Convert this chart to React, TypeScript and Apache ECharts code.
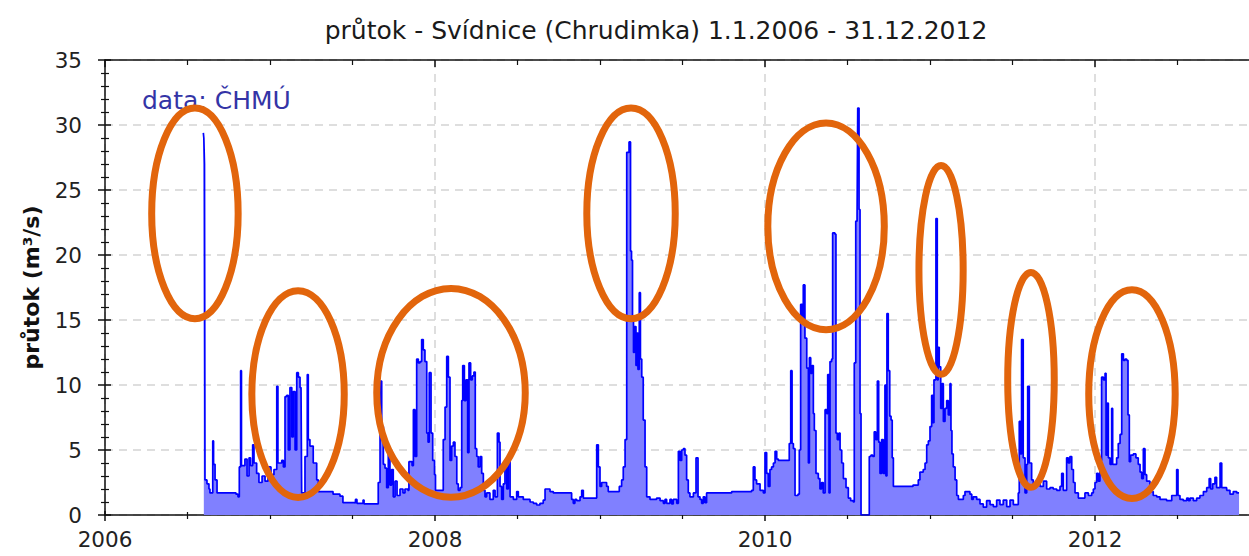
import React, { useEffect, useRef } from "react";
import * as echarts from "echarts";

// ---------- texts ----------
const TITLE = "průtok - Svídnice (Chrudimka) 1.1.2006 - 31.12.2012";
const Y_NAME = "průtok (m³/s)";
const SOURCE_NOTE = "data: ČHMÚ";

// ---------- axes ----------
const X_MIN = 2006;
const X_MAX = 2014; // axis continues past the visible edge
const X_LABEL_STEP = 2;
const Y_MIN = 0;
const Y_MAX = 35;
const Y_STEP = 5;

// ---------- daily flow (decimal year, m³/s) ----------
const flow2006: [number, number][] = [
  [2006.596, 29.4], [2006.599, 29.0], [2006.603, 27.0], [2006.606, 2.7], [2006.618, 2.4],
  [2006.63, 2.0], [2006.636, 1.7], [2006.653, 5.7], [2006.658, 3.9], [2006.667, 2.7],
  [2006.679, 1.7], [2006.794, 1.6], [2006.806, 1.4], [2006.814, 3.7], [2006.822, 11.1],
  [2006.827, 3.8], [2006.848, 4.3], [2006.861, 3.0], [2006.873, 4.4], [2006.882, 3.8],
  [2006.895, 5.4], [2006.903, 4.0], [2006.919, 3.2], [2006.933, 2.5], [2006.952, 3.0],
  [2006.97, 2.6], [2006.988, 3.7],
];
const flow2007: [number, number][] = [
  [2007.006, 3.1], [2007.024, 3.5], [2007.041, 9.9], [2007.048, 4.0], [2007.071, 4.2],
  [2007.081, 3.7], [2007.091, 9.1], [2007.101, 9.2], [2007.111, 5.0], [2007.121, 9.8],
  [2007.132, 6.0], [2007.141, 9.5], [2007.152, 5.0], [2007.162, 10.95], [2007.172, 10.6],
  [2007.182, 9.8], [2007.188, 9.8], [2007.192, 1.7], [2007.212, 4.5], [2007.226, 10.8],
  [2007.232, 5.8], [2007.242, 5.3], [2007.262, 4.0], [2007.283, 2.7], [2007.293, 1.8],
  [2007.382, 1.6], [2007.424, 1.45], [2007.442, 0.95], [2007.515, 0.9], [2007.518, 1.2],
  [2007.527, 0.9], [2007.564, 1.15], [2007.57, 0.85], [2007.642, 0.85], [2007.656, 2.5],
  [2007.667, 10.3], [2007.677, 6.8], [2007.687, 3.9], [2007.697, 3.6], [2007.707, 2.1],
  [2007.717, 5.0], [2007.727, 2.3], [2007.737, 3.5], [2007.747, 1.4], [2007.758, 2.6],
  [2007.77, 1.5], [2007.788, 2.0], [2007.806, 1.7], [2007.818, 2.0], [2007.836, 1.9],
  [2007.842, 4.1], [2007.861, 3.8], [2007.869, 8.1], [2007.879, 4.5], [2007.889, 12.0],
  [2007.899, 11.7], [2007.909, 11.8], [2007.919, 13.5], [2007.929, 12.7], [2007.939, 11.8],
  [2007.95, 6.3], [2007.958, 5.6], [2007.965, 10.95], [2007.976, 6.3], [2007.986, 4.2],
  [2007.997, 3.1],
];
const flow2008: [number, number][] = [
  [2008.003, 1.9], [2008.05, 5.8], [2008.061, 8.3], [2008.071, 12.2], [2008.081, 10.6],
  [2008.091, 4.2], [2008.101, 5.3], [2008.111, 5.6], [2008.121, 4.5], [2008.132, 2.4],
  [2008.141, 1.9], [2008.152, 2.1], [2008.162, 8.8], [2008.168, 11.5], [2008.178, 8.8],
  [2008.188, 10.4], [2008.198, 4.8], [2008.206, 11.7], [2008.216, 10.4], [2008.226, 10.7],
  [2008.236, 11.0], [2008.244, 5.1], [2008.253, 4.5], [2008.262, 3.7], [2008.273, 4.5],
  [2008.283, 3.2], [2008.293, 1.9], [2008.303, 1.4], [2008.313, 1.7], [2008.333, 1.2],
  [2008.353, 1.9], [2008.364, 1.4], [2008.378, 6.3], [2008.388, 5.6], [2008.394, 2.2],
  [2008.404, 1.2], [2008.414, 2.4], [2008.424, 3.7], [2008.435, 2.0], [2008.444, 4.5],
  [2008.455, 1.4], [2008.475, 1.2], [2008.495, 1.8], [2008.505, 1.4], [2008.535, 1.2],
  [2008.576, 1.0], [2008.596, 0.9], [2008.616, 0.77], [2008.636, 0.9], [2008.656, 1.15],
  [2008.667, 2.0], [2008.697, 1.8], [2008.717, 1.7], [2008.828, 1.2], [2008.838, 0.9],
  [2008.848, 1.2], [2008.859, 1.1], [2008.879, 1.4], [2008.889, 1.9], [2008.899, 1.3],
  [2008.98, 5.4], [2008.99, 3.7],
];
const flow2009: [number, number][] = [
  [2009.0, 2.2], [2009.01, 2.5], [2009.04, 2.2], [2009.05, 1.8], [2009.117, 2.2],
  [2009.131, 2.7], [2009.141, 3.7], [2009.152, 5.8], [2009.162, 27.9], [2009.176, 28.7],
  [2009.185, 20.3], [2009.191, 19.6], [2009.197, 15.0], [2009.203, 12.5], [2009.209, 14.5],
  [2009.218, 11.5], [2009.224, 14.0], [2009.23, 11.2], [2009.238, 17.1], [2009.245, 12.0],
  [2009.253, 10.6], [2009.262, 7.3], [2009.273, 3.7], [2009.283, 1.4], [2009.303, 1.2],
  [2009.343, 1.3], [2009.364, 1.1], [2009.384, 0.9], [2009.394, 1.2], [2009.404, 0.9],
  [2009.424, 1.2], [2009.434, 0.85], [2009.444, 1.2], [2009.465, 0.9], [2009.475, 4.9],
  [2009.485, 4.2], [2009.495, 5.0], [2009.505, 5.1], [2009.515, 4.6], [2009.525, 2.7],
  [2009.535, 1.7], [2009.545, 1.4], [2009.566, 1.7], [2009.582, 4.4], [2009.594, 1.4],
  [2009.606, 1.2], [2009.616, 0.9], [2009.626, 1.4], [2009.636, 0.95], [2009.646, 1.7],
  [2009.798, 1.8], [2009.919, 1.9], [2009.929, 3.7], [2009.939, 2.7], [2009.949, 2.4],
  [2009.97, 1.9], [2009.99, 1.7],
];
const flow2010: [number, number][] = [
  [2010.0, 4.8], [2010.01, 3.2], [2010.02, 2.2], [2010.03, 3.5], [2010.04, 3.7],
  [2010.051, 4.0], [2010.061, 4.9], [2010.071, 4.3], [2010.081, 4.2], [2010.147, 5.5],
  [2010.156, 11.1], [2010.164, 5.5], [2010.172, 5.1], [2010.182, 1.5], [2010.2, 1.6],
  [2010.208, 5.0], [2010.216, 16.2], [2010.226, 15.0], [2010.232, 17.7], [2010.242, 13.6],
  [2010.253, 11.3], [2010.263, 4.0], [2010.269, 12.1], [2010.277, 10.9], [2010.285, 11.5],
  [2010.293, 7.8], [2010.299, 6.5], [2010.309, 3.2], [2010.323, 2.8], [2010.333, 2.0],
  [2010.343, 2.5], [2010.353, 1.7], [2010.364, 8.1], [2010.374, 7.8], [2010.38, 10.8],
  [2010.388, 1.7], [2010.394, 11.8], [2010.404, 12.0], [2010.41, 21.7], [2010.424, 21.6],
  [2010.43, 6.3], [2010.438, 5.8], [2010.448, 6.3], [2010.455, 5.0], [2010.465, 4.0],
  [2010.475, 2.8], [2010.491, 2.1], [2010.505, 1.3], [2010.519, 1.1], [2010.535, 1.0],
  [2010.541, 11.7], [2010.55, 22.6], [2010.558, 22.9], [2010.562, 31.3], [2010.57, 23.5],
  [2010.576, 7.8], [2010.582, 0], [2010.624, 0], [2010.632, 4.5], [2010.642, 4.6],
  [2010.653, 4.5], [2010.662, 6.4], [2010.671, 5.8], [2010.681, 10.3], [2010.689, 5.6],
  [2010.697, 3.2], [2010.707, 5.8], [2010.717, 3.2], [2010.727, 10.0], [2010.733, 3.0],
  [2010.739, 15.5], [2010.747, 11.1], [2010.756, 7.6], [2010.764, 7.3], [2010.771, 4.4],
  [2010.778, 2.2], [2010.897, 2.3], [2010.929, 2.7], [2010.939, 3.3], [2010.959, 3.5],
  [2010.97, 4.0], [2010.98, 5.4], [2010.99, 5.7],
];
const flow2011: [number, number][] = [
  [2011.0, 6.8], [2011.01, 9.2], [2011.018, 7.1], [2011.024, 10.4], [2011.036, 22.8],
  [2011.044, 10.4], [2011.05, 12.9], [2011.056, 11.4], [2011.065, 8.2], [2011.073, 10.1],
  [2011.081, 7.2], [2011.091, 8.2], [2011.101, 8.8], [2011.111, 7.7], [2011.121, 10.1],
  [2011.127, 6.5], [2011.133, 4.7], [2011.141, 3.7], [2011.152, 2.7], [2011.162, 1.5],
  [2011.172, 1.2], [2011.202, 1.5], [2011.212, 1.8], [2011.242, 1.6], [2011.253, 1.2],
  [2011.262, 1.4], [2011.283, 1.2], [2011.303, 0.85], [2011.323, 0.6], [2011.343, 1.1],
  [2011.364, 0.8], [2011.384, 0.64], [2011.404, 1.15], [2011.424, 0.8], [2011.444, 1.15],
  [2011.465, 0.64], [2011.485, 1.15], [2011.505, 0.8], [2011.535, 1.7], [2011.541, 7.2],
  [2011.548, 4.7], [2011.555, 13.5], [2011.565, 4.4], [2011.576, 1.7], [2011.586, 3.9],
  [2011.592, 9.9], [2011.602, 4.0], [2011.616, 2.7], [2011.626, 2.4], [2011.646, 2.7],
  [2011.667, 2.2], [2011.687, 2.6], [2011.707, 2.0], [2011.727, 2.1], [2011.747, 2.0],
  [2011.768, 1.9], [2011.788, 2.2], [2011.798, 3.2], [2011.808, 1.9], [2011.828, 4.4],
  [2011.838, 4.0], [2011.848, 4.5], [2011.859, 3.5], [2011.869, 2.5], [2011.879, 1.7],
  [2011.899, 1.3], [2011.939, 1.7], [2011.96, 1.5], [2011.98, 1.7], [2011.99, 2.0],
];
const flow2012: [number, number][] = [
  [2012.0, 2.5], [2012.01, 3.2], [2012.02, 2.6], [2012.03, 4.2], [2012.04, 10.6],
  [2012.051, 10.4], [2012.061, 10.9], [2012.067, 4.6], [2012.075, 8.6], [2012.081, 4.4],
  [2012.091, 3.9], [2012.101, 8.2], [2012.107, 3.9], [2012.131, 4.4], [2012.141, 5.5],
  [2012.152, 6.2], [2012.162, 12.4], [2012.172, 11.9], [2012.182, 12.0], [2012.192, 11.9],
  [2012.2, 7.7], [2012.208, 4.1], [2012.216, 4.6], [2012.232, 4.7], [2012.248, 4.4],
  [2012.262, 3.9], [2012.273, 3.3], [2012.283, 2.8], [2012.293, 5.1], [2012.303, 3.1],
  [2012.313, 2.6], [2012.333, 1.8], [2012.353, 1.5], [2012.374, 1.4], [2012.394, 1.2],
  [2012.434, 1.1], [2012.465, 1.5], [2012.495, 3.5], [2012.503, 1.5], [2012.515, 1.2],
  [2012.535, 1.1], [2012.556, 1.3], [2012.566, 1.1], [2012.576, 1.3], [2012.596, 1.1],
  [2012.616, 1.3], [2012.636, 1.5], [2012.657, 1.8], [2012.677, 2.1], [2012.692, 2.8],
  [2012.701, 2.0], [2012.713, 2.4], [2012.727, 2.9], [2012.737, 2.1], [2012.758, 4.0],
  [2012.768, 2.1], [2012.798, 1.9], [2012.818, 1.6], [2012.838, 1.8], [2012.859, 1.7],
  [2012.873, 1.7],
];

// ---------- highlighted floods: centre year, centre flow, half-width (years), half-height (m³/s) ----------
const highlightYears = [2006.545, 2007.17, 2008.097, 2009.188, 2010.37, 2011.067, 2011.612, 2012.224];
const highlightFlows = [23.2, 9.3, 9.4, 23.2, 22.2, 18.85, 10.4, 9.3];
const highlightHalfWidths = [0.262, 0.28, 0.45, 0.268, 0.353, 0.134, 0.141, 0.262];
const highlightHalfHeights = [8.1, 7.95, 8.03, 8.1, 7.95, 8.03, 8.26, 8.03];

const FONT = "'DejaVu Sans', Verdana, sans-serif";

export default function App() {
  const ref = useRef<HTMLDivElement>(null);

  useEffect(() => {
    if (!ref.current) return;
    const chart = echarts.init(ref.current, undefined, { renderer: "svg" });
    const flow = [...flow2006, ...flow2007, ...flow2008, ...flow2009, ...flow2010, ...flow2011, ...flow2012];

    const gridColor = "#d4d4d4";
    const axisColor = "#111";

    const xBase = {
      type: "value" as const,
      min: X_MIN,
      max: X_MAX,
      interval: X_LABEL_STEP,
      gridIndex: 0,
    };
    const yBase = {
      type: "value" as const,
      min: Y_MIN,
      max: Y_MAX,
      interval: Y_STEP,
      gridIndex: 0,
    };

    const noteGraphic = {
      type: "text",
      left: 142,
      top: 88,
      style: { text: SOURCE_NOTE, font: `25px ${FONT}`, fill: "#3434a6" },
      z: 50,
    };

    chart.setOption({
      animation: false,
      backgroundColor: "#ffffff",
      title: {
        text: TITLE,
        left: 651,
        top: 13,
        textAlign: "center",
        textStyle: { fontFamily: FONT, fontSize: 25, fontWeight: "normal", color: "#1a1a1a" },
      },
      grid: {
        left: 105,
        top: 60,
        bottom: 41,
        width: 1320,
        containLabel: false,
        outerBoundsMode: "none",
      },
      xAxis: [
        {
          ...xBase,
          position: "bottom",
          axisLine: { show: true, onZero: false, lineStyle: { color: axisColor, width: 1.5 } },
          axisTick: { show: true, inside: false, length: 6, lineStyle: { color: axisColor, width: 1.5 } },
          minorTick: { show: true, splitNumber: 4, length: 4, lineStyle: { color: axisColor, width: 1.2 } },
          axisLabel: {
            show: true,
            margin: 13,
            fontFamily: FONT,
            fontSize: 21.5,
            color: "#222",
            formatter: (v: number) => (v <= 2012 ? String(v) : ""),
          },
          splitLine: { show: true, lineStyle: { color: gridColor, type: [8, 6], width: 1.5 } },
        },
        {
          ...xBase,
          position: "bottom",
          axisLine: { show: false },
          axisTick: { show: true, inside: true, length: 4, lineStyle: { color: axisColor, width: 1.5 } },
          minorTick: { show: true, splitNumber: 4, length: 3, lineStyle: { color: axisColor, width: 1.2 } },
          axisLabel: { show: false },
          splitLine: { show: false },
        },
        {
          ...xBase,
          position: "top",
          axisLine: { show: true, onZero: false, lineStyle: { color: axisColor, width: 1.5 } },
          axisTick: { show: true, inside: true, length: 7, lineStyle: { color: axisColor, width: 1.5 } },
          minorTick: { show: true, splitNumber: 4, length: 5, lineStyle: { color: axisColor, width: 1.2 } },
          axisLabel: { show: false },
          splitLine: { show: false },
        },
      ],
      yAxis: [
        {
          ...yBase,
          position: "left",
          name: Y_NAME,
          nameLocation: "middle",
          nameRotate: 90,
          nameGap: 63,
          nameTextStyle: { fontFamily: FONT, fontSize: 22, fontWeight: "bold", color: "#111" },
          axisLine: { show: true, onZero: false, lineStyle: { color: axisColor, width: 1.5 } },
          axisTick: { show: true, inside: false, length: 7, lineStyle: { color: axisColor, width: 1.5 } },
          minorTick: { show: true, splitNumber: 5, length: 4, lineStyle: { color: axisColor, width: 1.2 } },
          axisLabel: { show: true, margin: 23, fontFamily: FONT, fontSize: 21.5, color: "#222" },
          splitLine: { show: true, lineStyle: { color: gridColor, type: [8, 6], width: 1.5 } },
        },
        {
          ...yBase,
          position: "left",
          axisLine: { show: false },
          axisTick: { show: true, inside: true, length: 6, lineStyle: { color: axisColor, width: 1.5 } },
          minorTick: { show: true, splitNumber: 5, length: 4, lineStyle: { color: axisColor, width: 1.2 } },
          axisLabel: { show: false },
          splitLine: { show: false },
        },
      ],
      series: [
        {
          type: "line",
          name: "průtok",
          xAxisIndex: 0,
          yAxisIndex: 0,
          data: flow,
          step: "end",
          showSymbol: false,
          symbol: "none",
          lineStyle: { color: "#0000ff", width: 1.7 },
          areaStyle: { color: "#8080ff", opacity: 1 },
          z: 2,
        },
      ],
      graphic: [noteGraphic],
    });

    // Annotation ellipses, placed from data coordinates through the axes
    const ellipses = highlightYears.map((yr, i) => {
      const c = chart.convertToPixel({ xAxisIndex: 0, yAxisIndex: 0 }, [yr, highlightFlows[i]]) as number[];
      const e = chart.convertToPixel(
        { xAxisIndex: 0, yAxisIndex: 0 },
        [yr + highlightHalfWidths[i], highlightFlows[i] + highlightHalfHeights[i]]
      ) as number[];
      return {
        type: "ellipse",
        shape: { cx: c[0], cy: c[1], rx: Math.abs(e[0] - c[0]), ry: Math.abs(c[1] - e[1]) },
        style: { fill: "none", stroke: "#e2650c", lineWidth: 7 },
        z: 100,
        silent: true,
      };
    });

    chart.setOption({ graphic: [noteGraphic, ...ellipses] });

    return () => chart.dispose();
  }, []);

  return (
    <div
      ref={ref}
      style={{ position: "fixed", left: 0, top: 0, width: 1249, height: 556, background: "#fff" }}
    />
  );
}
